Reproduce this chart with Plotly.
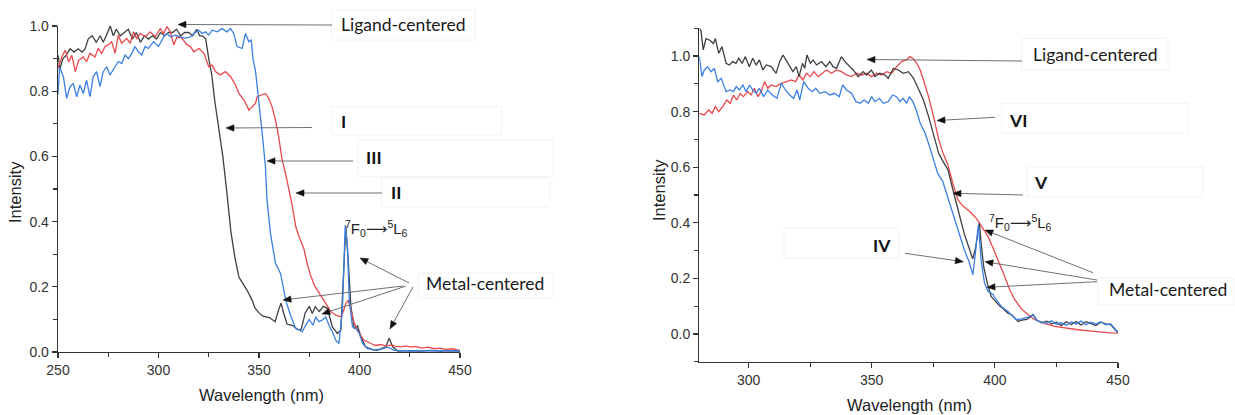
import math
import plotly.graph_objects as go

W, H = 1235, 415

# ---------------- Left panel data (I, II, III) ----------------
left_black_x = [250, 251, 252.5, 254, 256, 258, 260, 262, 263.5, 265, 267, 269, 271, 272.5, 274, 276, 277.5, 279,
                281, 283, 285, 287, 289, 291, 293, 295, 297, 299, 301, 303, 305, 307, 309, 311, 313, 315, 317, 319,
                320.5, 322, 323.5, 325, 326.5, 328, 330, 332, 334, 336, 338, 340, 342, 344, 346.5, 348, 350, 352,
                355.5, 358, 359.8, 361, 362.3, 364, 366.5, 369.5, 371, 373, 375, 376.5, 378, 380, 382, 384, 386.5,
                389, 390.7, 392, 393.2, 394.4, 395.7, 397.4, 399, 400.7, 403, 407, 410, 413, 414.8, 416.5, 419, 425,
                430, 435, 440, 445, 450]
left_black_y = [0.91, 0.87, 0.90, 0.91, 0.93, 0.92, 0.93, 0.92, 0.93, 0.96, 0.97, 0.95, 0.97, 0.95, 0.97, 1.0, 0.97,
                0.99, 0.97, 0.98, 0.99, 0.96, 0.98, 0.95, 0.97, 0.96, 0.97, 0.96, 0.98, 0.97, 0.98, 0.98, 0.99, 0.97,
                0.98, 0.98, 0.97, 0.99, 0.97, 0.97, 0.96, 0.90, 0.85, 0.77, 0.69, 0.60, 0.49, 0.37, 0.29, 0.23, 0.21,
                0.19, 0.16, 0.135, 0.12, 0.11, 0.105, 0.093, 0.13, 0.15, 0.118, 0.085, 0.082, 0.068, 0.07, 0.12, 0.14,
                0.118, 0.139, 0.124, 0.14, 0.134, 0.077, 0.057, 0.067, 0.26, 0.385, 0.28, 0.14, 0.072, 0.08, 0.047,
                0.016, 0.006, 0.008, 0.016, 0.042, 0.016, 0.003, 0.004, 0.003, 0.005, 0.003, 0.004, 0.002]

left_red_x = [250, 251.9, 253.6, 255.3, 256.9, 258.6, 260.3, 262.6, 264.2, 265.9, 268.4, 270, 271.7, 273.4, 275,
              276.7, 278.4, 280, 281.7, 284.2, 285.9, 287.5, 289.2, 290.9, 293.4, 295.9, 298.4, 300.9, 302.6, 304.2,
              305.9, 307.6, 309.2, 311.7, 314.2, 315.9, 317.6, 320.1, 322.6, 325, 326.7, 328.3, 330.8, 333.3, 335.8,
              338.3, 340, 342.5, 345, 346.6, 348.3, 349.1, 351.6, 353.2, 354.9, 356.5, 358.2, 359.8, 361.5, 363.2,
              364.9, 366.5, 368.3, 369.9, 372.4, 374, 375.7, 377.5, 379, 380.7, 383.2, 385.7, 388.2, 390.7, 392,
              393.2, 394.4, 395.7, 397.4, 399.9, 402.3, 405.7, 408, 410.7, 413, 415.7, 418, 420.7, 423, 425.7, 428,
              431, 434, 437.3, 440, 443, 446, 450]
left_red_y = [0.87, 0.905, 0.926, 0.89, 0.91, 0.86, 0.895, 0.905, 0.89, 0.916, 0.905, 0.931, 0.916, 0.937, 0.942,
              0.952, 0.916, 0.972, 0.947, 0.962, 0.947, 0.982, 0.962, 0.977, 0.967, 0.982, 0.967, 0.992, 0.977, 0.998,
              0.982, 0.942, 0.967, 0.962, 0.942, 0.937, 0.921, 0.931, 0.916, 0.875, 0.88, 0.86, 0.85, 0.86, 0.845,
              0.819, 0.793, 0.773, 0.742, 0.752, 0.763, 0.783, 0.788, 0.793, 0.778, 0.752, 0.711, 0.66, 0.589, 0.548,
              0.497, 0.45, 0.384, 0.354, 0.315, 0.27, 0.235, 0.205, 0.19, 0.175, 0.149, 0.124, 0.113, 0.108, 0.125,
              0.149, 0.159, 0.129, 0.088, 0.057, 0.036, 0.026, 0.02, 0.023, 0.018, 0.022, 0.017, 0.016, 0.019, 0.015,
              0.017, 0.012, 0.015, 0.01, 0.012, 0.008, 0.01, 0.005]

left_blue_x = [250, 250.8, 252.7, 254.3, 256, 257.6, 259.3, 260.9, 262.6, 264.2, 265.9, 267.5, 269.2, 270.9, 272.5,
               274.2, 275.9, 278.4, 280, 281.7, 283.4, 285, 286.7, 288.3, 290, 291.7, 293.3, 295, 297.5, 300, 302.6,
               304.2, 305.9, 308.4, 310.9, 313.4, 315.9, 317.6, 320.1, 321.7, 323.3, 325, 326.7, 329.2, 331.6, 334.1,
               335.8, 337.4, 339.1, 341.6, 343.3, 344.9, 346.1, 347.1, 348.3, 349.9, 351.6, 353.2, 354, 355.7, 357.4,
               358.2, 360.7, 362.3, 363.5, 365.7, 368.2, 370, 371.5, 373.2, 375, 376.9, 378.2, 379.8, 381.5, 383.2,
               384.8, 386.5, 388.2, 389.8, 391.5, 392.9, 394, 394.9, 396.5, 398.2, 399.9, 401.5, 404, 409, 414,
               417.3, 425, 435, 450]
left_blue_y = [0.79, 0.875, 0.844, 0.778, 0.814, 0.824, 0.783, 0.819, 0.793, 0.834, 0.783, 0.844, 0.86, 0.814, 0.86,
               0.875, 0.85, 0.875, 0.891, 0.885, 0.911, 0.9, 0.916, 0.937, 0.921, 0.911, 0.937, 0.931, 0.952, 0.937,
               0.967, 0.977, 0.967, 0.972, 0.967, 0.962, 0.967, 0.977, 0.987, 0.977, 0.982, 0.972, 0.987, 0.982, 0.992,
               0.982, 0.992, 0.977, 0.937, 0.931, 0.977, 0.952, 0.957, 0.896, 0.86, 0.773, 0.671, 0.569, 0.466, 0.364,
               0.303, 0.272, 0.241, 0.19, 0.154, 0.113, 0.072, 0.068, 0.062, 0.082, 0.1, 0.082, 0.108, 0.093, 0.098,
               0.108, 0.082, 0.062, 0.036, 0.026, 0.129, 0.389, 0.323, 0.159, 0.077, 0.072, 0.057, 0.026, 0.01, 0.005,
               0.015, 0.005, 0.003, 0.004, 0.003]

# ---------------- Right panel data (IV, V, VI) ----------------
right_black_x = [280, 280.7, 281.6, 282.7, 284.3, 285.7, 286.5, 287.9, 289.2, 290.9, 292.2, 293.6, 294.9, 296, 297.4,
                 298.7, 300.3, 301.7, 303.1, 304.4, 305.8, 307.2, 309.2, 311.2, 312.6, 314, 316, 318, 319.4, 320.5,
                 321.9, 322.8, 323.7, 325.1, 326.2, 327.6, 329.6, 331.4, 333, 334.3, 335.7, 337.7, 339.1, 340.4,
                 342.5, 344.5, 346.5, 347.9, 349.9, 351.3, 353.3, 355.4, 356.7, 358.8, 360.8, 362.8, 364.9, 367, 369,
                 371, 373.1, 375.1, 377.2, 379, 381, 383.5, 385.5, 387.6, 389.5, 391, 392.2, 393.7, 394.5, 395.5, 397,
                 398.5, 400, 402, 403.5, 405.3, 407, 409.4, 411, 413, 414.5, 415.5, 417, 419, 421, 423, 425, 427, 429,
                 431, 433, 435, 437, 439, 441, 443, 445, 447, 448.5, 450]
right_black_y = [1.10, 1.09, 1.022, 1.063, 1.057, 1.045, 1.063, 1.01, 1.034, 0.974, 0.968, 0.98, 0.974, 0.992, 0.974,
                 0.998, 0.962, 0.992, 0.968, 0.986, 0.95, 0.968, 0.962, 0.938, 0.98, 1.004, 0.974, 0.944, 0.962, 0.926,
                 0.974, 0.956, 1.004, 0.974, 0.986, 0.968, 0.98, 0.962, 0.98, 0.962, 0.956, 0.998, 0.98, 0.968, 0.95,
                 0.926, 0.944, 0.932, 0.95, 0.926, 0.938, 0.932, 0.92, 0.956, 0.95, 0.938, 0.944, 0.92, 0.878, 0.842,
                 0.782, 0.722, 0.65, 0.62, 0.59, 0.50, 0.43, 0.36, 0.31, 0.27, 0.31, 0.40, 0.32, 0.24, 0.18, 0.135,
                 0.12, 0.10, 0.09, 0.075, 0.068, 0.045, 0.05, 0.052, 0.062, 0.07, 0.05, 0.04, 0.046, 0.036, 0.042,
                 0.03, 0.044, 0.034, 0.045, 0.032, 0.044, 0.036, 0.03, 0.042, 0.036, 0.034, 0.02, 0.004]

right_red_x = [280, 282, 283.8, 285.2, 286.5, 287.9, 289.5, 291.2, 292.5, 293.9, 295.2, 296.6, 297.9, 299.7, 301,
               302.4, 303.8, 305.1, 306.5, 307.8, 309.2, 311.2, 313.3, 315.3, 317.4, 319.1, 320.5, 322.1, 323.5,
               325.1, 326.5, 328.2, 330, 331.6, 333.7, 335.7, 337.7, 339.8, 341.8, 343.9, 345.9, 347.9, 349.9, 352,
               354, 356.1, 358.1, 360.1, 362.2, 364, 365.6, 367, 368.3, 369.7, 371, 373.1, 375.1, 377.2, 379, 380.9,
               383, 385, 387, 389, 391, 392.4, 393.7, 395.5, 397.2, 399.2, 401.3, 404, 406, 408.1, 410.8, 413.5,
               416.3, 420, 424.3, 429, 433.8, 438, 443.3, 447, 450]
right_red_y = [0.794, 0.788, 0.806, 0.794, 0.818, 0.8, 0.818, 0.842, 0.83, 0.86, 0.842, 0.866, 0.854, 0.872, 0.86,
               0.884, 0.854, 0.872, 0.908, 0.884, 0.896, 0.89, 0.902, 0.908, 0.914, 0.908, 0.932, 0.914, 0.938, 0.926,
               0.944, 0.926, 0.938, 0.95, 0.938, 0.95, 0.944, 0.932, 0.926, 0.938, 0.932, 0.938, 0.926, 0.938, 0.932,
               0.944, 0.938, 0.962, 0.98, 0.986, 0.998, 0.99, 0.974, 0.95, 0.914, 0.854, 0.782, 0.70, 0.65, 0.61,
               0.54, 0.483, 0.46, 0.447, 0.43, 0.417, 0.40, 0.375, 0.351, 0.31, 0.267, 0.207, 0.16, 0.123, 0.09,
               0.069, 0.051, 0.038, 0.027, 0.02, 0.015, 0.011, 0.006, 0.004, 0.003]

right_blue_x = [280, 281.1, 282, 283.4, 284.8, 286.1, 287.5, 288.9, 290.9, 292.5, 293.9, 295, 296.3, 297.7, 299,
                300.4, 301.7, 303.1, 304.4, 306.1, 307.8, 309.6, 311.5, 313.3, 315, 316.7, 318.3, 319.7, 320.8,
                322.4, 324.2, 325.9, 327.3, 328.9, 331, 333, 335, 336.8, 338.2, 339.8, 341.8, 343.6, 345.3, 346.9,
                348.6, 350, 351.3, 353.1, 354.7, 356.7, 358.5, 360.1, 361.5, 362.8, 364.2, 365.3, 366.7, 368.1,
                369.7, 371.7, 373.5, 375.1, 376.9, 378.8, 380.9, 382.9, 385.6, 387.6, 389.5, 391.1, 392.2, 393.3,
                394.5, 395.8, 397.2, 399.2, 400.6, 402.6, 405.3, 407, 408.7, 410.8, 413.5, 415.5, 416.9, 419, 421,
                423, 425, 427, 429, 431, 433, 435, 437, 439, 441, 443, 445, 447, 448.5, 450]
right_blue_y = [0.998, 0.926, 0.95, 0.962, 0.944, 0.956, 0.908, 0.92, 0.872, 0.878, 0.872, 0.89, 0.878, 0.896, 0.872,
                0.896, 0.878, 0.866, 0.884, 0.854, 0.878, 0.86, 0.848, 0.902, 0.878, 0.86, 0.848, 0.878, 0.842, 0.908,
                0.884, 0.872, 0.884, 0.866, 0.872, 0.86, 0.866, 0.854, 0.896, 0.878, 0.866, 0.836, 0.83, 0.842, 0.83,
                0.854, 0.836, 0.848, 0.83, 0.836, 0.86, 0.854, 0.836, 0.848, 0.83, 0.854, 0.836, 0.806, 0.758, 0.722,
                0.674, 0.627, 0.575, 0.55, 0.49, 0.44, 0.363, 0.303, 0.26, 0.213, 0.30, 0.393, 0.258, 0.183, 0.153,
                0.143, 0.123, 0.099, 0.081, 0.065, 0.051, 0.054, 0.06, 0.069, 0.049, 0.042, 0.038, 0.047, 0.035, 0.04,
                0.031, 0.043, 0.036, 0.046, 0.033, 0.042, 0.035, 0.044, 0.033, 0.036, 0.022, 0.006]

left_xticks = [250, 300, 350, 400, 450]
right_xticks = [300, 350, 400, 450]
yticks = [0.0, 0.2, 0.4, 0.6, 0.8, 1.0]

BLACK = "#3f3f3f"
RED = "#e9484d"
BLUE = "#3a80e4"
AX = "#333333"

fig = go.Figure()
for xs, ys, c in [(left_black_x, left_black_y, BLACK), (left_red_x, left_red_y, RED), (left_blue_x, left_blue_y, BLUE)]:
    fig.add_trace(go.Scatter(x=xs, y=ys, mode="lines", line=dict(color=c, width=1.3), xaxis="x", yaxis="y",
                             showlegend=False, hoverinfo="skip"))
for xs, ys, c in [(right_red_x, right_red_y, RED), (right_black_x, right_black_y, BLACK), (right_blue_x, right_blue_y, BLUE)]:
    fig.add_trace(go.Scatter(x=xs, y=ys, mode="lines", line=dict(color=c, width=1.3), xaxis="x2", yaxis="y2",
                             showlegend=False, hoverinfo="skip"))


def px(xp):
    return xp / W


def py(yp):
    return 1 - yp / H


axis_common = dict(showline=True, linecolor=AX, linewidth=1.3, ticks="outside", ticklen=5, tickwidth=1.2,
                   tickcolor=AX, showgrid=False, zeroline=False, automargin=False,
                   tickfont=dict(family="Arial, Liberation Sans, sans-serif", size=14, color=AX))

fig.update_layout(
    width=W, height=H, margin=dict(l=0, r=0, t=0, b=0, autoexpand=False),
    paper_bgcolor="white", plot_bgcolor="white",
    xaxis=dict(domain=[px(58), px(460)], range=[250, 450], tickvals=left_xticks, anchor="y",
               minor=dict(dtick=25, tick0=250, ticks="outside", ticklen=4, tickwidth=1.2, tickcolor=AX, showgrid=False),
               **axis_common),
    yaxis=dict(domain=[py(352), py(26)], range=[0, 1.0], tickvals=yticks, tickformat=".1f", anchor="x",
               minor=dict(dtick=0.1, tick0=0, ticks="outside", ticklen=4, tickwidth=1.2, tickcolor=AX, showgrid=False),
               **axis_common),
    xaxis2=dict(domain=[px(699.3), px(1118)], range=[280, 450], tickvals=right_xticks, anchor="y2",
                minor=dict(dtick=25, tick0=300, ticks="outside", ticklen=4, tickwidth=1.2, tickcolor=AX, showgrid=False),
                **axis_common),
    yaxis2=dict(domain=[py(361.7), py(28.3)], range=[-0.1, 1.1], tickvals=yticks, tickformat=".1f", anchor="x2",
                minor=dict(dtick=0.1, tick0=0, ticks="outside", ticklen=4, tickwidth=1.2, tickcolor=AX, showgrid=False),
                **axis_common),
)

title_font = dict(family="Arial, Liberation Sans, sans-serif", size=16.5, color="#222")
call_font = dict(family="Lato, Carlito, sans-serif", size=17.5, color="#1a1a1a")
bold_font = dict(family="Lato, Carlito, sans-serif", size=17.5, color="#111")
trans_font = dict(family="Arial, Liberation Sans, DejaVu Sans, sans-serif", size=15, color="#222")

annotations = []
shapes = []


def text(x, y, t, font, angle=0):
    annotations.append(dict(x=px(x), y=py(y), xref="paper", yref="paper", text=t, showarrow=False, font=font,
                            xanchor="center", yanchor="middle", textangle=angle))


def arrow(tip, tail, head_len=8.0, head_half=3.2):
    dx, dy = tip[0] - tail[0], tip[1] - tail[1]
    d = math.hypot(dx, dy)
    ux, uy = dx / d, dy / d
    bx, by = tip[0] - ux * head_len, tip[1] - uy * head_len
    shapes.append(dict(type="line", xref="paper", yref="paper", x0=px(tail[0]), y0=py(tail[1]),
                       x1=px(bx), y1=py(by), line=dict(color="#707070", width=1)))
    p1 = (bx - uy * head_half, by + ux * head_half)
    p2 = (bx + uy * head_half, by - ux * head_half)
    path = "M {:.5f},{:.5f} L {:.5f},{:.5f} L {:.5f},{:.5f} Z".format(
        px(tip[0]), py(tip[1]), px(p1[0]), py(p1[1]), px(p2[0]), py(p2[1]))
    shapes.append(dict(type="path", xref="paper", yref="paper", path=path, fillcolor="#111",
                       line=dict(color="#111", width=0.5)))


# faint text-box outlines
boxes = [(331.7, 10, 475, 40), (331.7, 106.7, 501.7, 135), (358, 140, 553, 176.7), (381.7, 178, 550, 206.7),
         (418, 273, 553, 298), (1021.7, 38.3, 1168, 70), (1001.7, 103.3, 1188, 133.3), (1026.7, 166.7, 1203, 196.7),
         (784, 228.3, 899, 258.3), (1098, 278, 1234, 305)]
for x0, y0, x1, y1 in boxes:
    shapes.append(dict(type="rect", xref="paper", yref="paper", x0=px(x0), x1=px(x1), y0=py(y1), y1=py(y0),
                       line=dict(color="#f2f2f2", width=1), fillcolor="rgba(0,0,0,0)", layer="below"))

# axis titles
text(15, 192, "Intensity", title_font, angle=-90)
text(261, 395, "Wavelength (nm)", title_font)
text(659, 190, "Intensity", title_font, angle=-90)
text(909, 405, "Wavelength (nm)", title_font)

trans = "<sup>7</sup>F<sub>0</sub>\u27f6<sup>5</sup>L<sub>6</sub>"

# left callouts
text(403, 25, "Ligand-centered", call_font)
text(343, 122, "<b>I</b>", bold_font)
text(374, 157, "<b>III</b>", bold_font)
text(396, 193, "<b>II</b>", bold_font)
text(376, 228, trans, trans_font)
text(485, 283, "Metal-centered", call_font)
arrow((178, 24.5), (332, 25))
arrow((226, 128), (312, 127.5))
arrow((267, 161), (353, 161))
arrow((296, 193), (382, 193))
arrow((360, 258), (409, 283))
arrow((283, 300), (403, 286))
arrow((322, 314), (406, 286))
arrow((390, 329), (413, 287))

# right callouts
text(1095, 55, "Ligand-centered", call_font)
text(1018, 120, "<b>VI</b>", bold_font)
text(1041, 182, "<b>V</b>", bold_font)
text(882, 245, "<b>IV</b>", bold_font)
text(1020, 222, trans, trans_font)
text(1168, 289, "Metal-centered", call_font)
arrow((867, 59.5), (1022, 61))
arrow((937, 120.5), (995, 117.3))
arrow((953, 193.3), (1023, 195))
arrow((963.3, 261.7), (905, 253.3))
arrow((985, 230), (1093, 272.7))
arrow((985, 261.7), (1097, 280))
arrow((987, 287.3), (1097, 281.7))

fig.update_layout(annotations=annotations, shapes=shapes)

fig.write_html("out.html", config={"displayModeBar": False, "staticPlot": True},
               post_script="document.body.style.margin='0';document.body.style.padding='0';"
                           "document.body.style.overflow='hidden';")
